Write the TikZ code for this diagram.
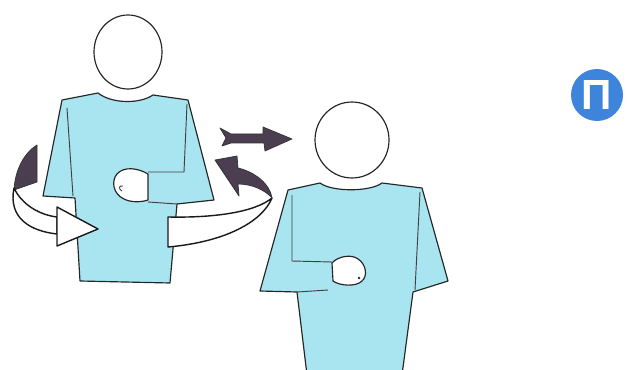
\documentclass[tikz,border=0pt]{standalone}
\usepackage{fontspec}
\newfontfamily\cyrfont{Liberation Sans}
\definecolor{shirtblue}{RGB}{168,229,240}
\definecolor{turngrey}{RGB}{74,62,80}
\definecolor{badgeblue}{RGB}{62,132,218}

\begin{document}
\begin{tikzpicture}[
    x=0.3mm, y=-0.3mm,
    line join=round,
    shirt/.style={draw=black!85, line width=1pt, fill=shirtblue},
    seam/.style={draw=black!75, line width=0.8pt},
    skin/.style={draw=black!85, line width=1pt, fill=white},
    band/.style={draw=black!90, line width=1.2pt, fill=white},
    turn/.style={draw=black!80, line width=0.6pt, fill=turngrey},
    badge/.style={circle, fill=badgeblue, minimum size=15.6mm, inner sep=0pt,
                  text=white, font=\cyrfont\bfseries\fontsize{36}{36}\selectfont}
  ]
  \useasboundingbox (0,0) rectangle (628,370);

  % first figure: back side of the turning band
  \draw[turn] (37,145) -- (37,182) -- (14,190) .. controls (15,170) and (24,153) .. cycle;
  \draw[band] (14,188) .. controls (22,205) and (40,215) .. (57,217)
    -- (57,234) .. controls (30,231) and (8,218) .. cycle;

  % first figure
  \draw[skin] (128,52) ellipse [x radius=10.2mm, y radius=11.1mm];
  \draw[shirt] (62,100) -- (98,93) .. controls (112,104) and (140,104) .. (153,95)
    -- (188,100) -- (214,200) -- (177,204) -- (170,283) -- (80,281) -- (75,198)
    -- (43,196) -- cycle;
  \draw[seam] (67,108) -- (73,196);
  \draw[seam] (187,104) -- (184,172) -- (148,172);
  \draw[seam] (177,204) -- (148,202);
  \draw[skin] (148,174) .. controls (138,168) and (124,166) .. (117,174)
    .. controls (111,181) and (113,194) .. (124,199)
    .. controls (132,203) and (142,202) .. (148,200) -- cycle;
  \draw[seam] (122,191) .. controls (118,189) and (119,185) .. (123,186);

  % front of the band and its arrows
  \draw[band] (57,207) -- (98,229) -- (57,246) -- cycle;
  \draw[band] (168,217) .. controls (215,218) and (255,212) .. (272,198)
    .. controls (262,222) and (225,242) .. (168,247) -- cycle;
  \draw[turn] (215,160) -- (237,156) -- (238,168) .. controls (255,172) and (270,184) .. (272,198)
    .. controls (265,190) and (252,184) .. (238,184) -- (239,196) -- cycle;
  \draw[turn] (220,128) -- (231,134) -- (263,134) -- (263,127) -- (292,139)
    -- (265,151) -- (264,143) -- (231,143) -- (222,146) -- (226,138) -- cycle;

  % second figure
  \draw[skin] (352,140) ellipse [x radius=11.1mm, y radius=11.4mm];
  \draw[shirt] (288,190) -- (320,183) .. controls (332,192) and (370,192) .. (382,183)
    -- (422,188) -- (448,281) -- (413,292) -- (402,375) -- (307,375) -- (297,292)
    -- (260,291) -- cycle;
  \draw[seam] (292,195) -- (292,261) -- (332,262);
  \draw[seam] (297,292) -- (328,290);
  \draw[seam] (420,192) -- (415,290);
  \draw[skin] (332,263) .. controls (338,256) and (352,254) .. (358,259)
    .. controls (366,264) and (368,276) .. (362,281)
    .. controls (356,287) and (340,286) .. (333,281) -- cycle;
  \fill[black!85] (359,278) circle [radius=0.4mm];

  % letter badge
  \node[badge] (letter) at (597,95) {П};
\end{tikzpicture}
\end{document}
